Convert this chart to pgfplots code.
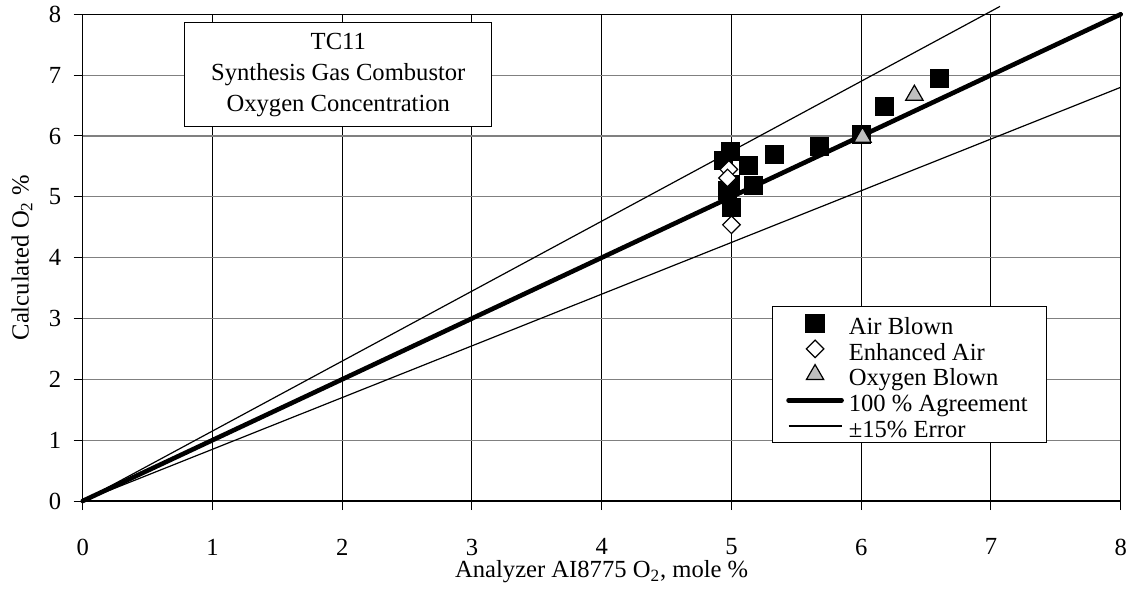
\documentclass[border=0pt]{standalone}
\usepackage{fontspec}
\setmainfont{Liberation Serif}
\usepackage{pgfplots}
\pgfplotsset{compat=1.18}

% Measured O2 (analyzer) vs. calculated O2, mole %
\pgfplotstableread{
x     y
4.94  5.60
4.99  5.74
5.13  5.51
5.33  5.69
5.17  5.18
4.99  5.20
4.97  5.10
5.00  4.83
5.68  5.83
6.00  6.03
6.18  6.48
6.60  6.94
}\airblown
\pgfplotstableread{
x     y
4.98  5.45
4.97  5.31
5.00  4.54
}\enhancedair
\pgfplotstableread{
x     y
6.01  5.98
6.41  6.67
}\oxygenblown

\begin{document}
\begin{tikzpicture}
\begin{axis}[
  scale only axis,
  width=519pt, height=243.35pt,
  xmin=0, xmax=8, ymin=0, ymax=8,
  xtick={0,1,...,8}, ytick={0,1,...,8},
  xtick pos=lower, ytick pos=left,
  tick align=outside, major tick length=4.5pt,
  tick style={black, line width=0.5pt},
  axis line style={black, line width=0.6pt},
  grid=major,
  x grid style={black, line width=0.5pt},
  y grid style={gray, line width=0.6pt},
  clip=false,
  font=\fontsize{12.3}{14}\selectfont,
  /pgf/number format/assume math mode=true,
  xticklabel style={inner sep=0pt, anchor=north, yshift=-14.2pt},
  yticklabel style={inner sep=0pt, anchor=east, xshift=-6pt},
  xlabel={Analyzer AI8775 O\textsubscript{2}, mole \%},
  ylabel={Calculated O\textsubscript{2} \%},
  xlabel style={at={(axis description cs:0.5,0)}, anchor=north, inner sep=0pt, yshift=-29.6pt},
  ylabel style={at={(axis description cs:-0.0585,0.5)}, anchor=center, inner sep=0pt},
  legend cell align=left,
  legend image code/.code={%
    \draw[mark repeat=2, mark phase=2, #1]
      plot coordinates {(0pt,0pt) (13.25pt,0pt) (26.5pt,0pt)};},
  legend style={
    at={(axis cs:5.31,3.21)}, anchor=north west,
    draw=black, line width=0.6pt, fill=white,
    inner xsep=7pt, inner ysep=2pt,
    row sep=0pt,
    font=\fontsize{12.3}{14}\selectfont,
    nodes={inner ysep=0pt, inner xsep=2.5pt, text height=12pt, text depth=0.85pt},
  },
]
% agreement and +/-15% error lines
\addplot[black, line width=2.3pt, line cap=round, forget plot] coordinates {(0,0) (8,8)};
\addplot[black, line width=0.6pt, forget plot] coordinates {(0,0) (7.07,8.13)};
\addplot[black, line width=0.6pt, forget plot] coordinates {(0,0) (8,6.8)};

% test data
\addplot[only marks, mark=square*, mark size=4.5pt,
  mark options={fill=black, draw=black}] table[x=x, y=y] {\airblown};
\addlegendentry{Air Blown}
\addplot[only marks, mark=square*, mark size=3.1pt,
  mark options={rotate=45, fill=white, draw=black, line width=0.6pt}] table[x=x, y=y] {\enhancedair};
\addlegendentry{Enhanced Air}
\addplot[only marks, mark=triangle*, mark size=5pt,
  mark options={fill=black!25, draw=black, line width=0.6pt}] table[x=x, y=y] {\oxygenblown};
\addlegendentry{Oxygen Blown}
\addlegendimage{black, line width=2.3pt, line cap=round}
\addlegendentry{100 \% Agreement}
\addlegendimage{black, line width=0.6pt}
\addlegendentry{±15\% Error}

\node[draw=black, line width=0.6pt, fill=white, align=center,
  font=\fontsize{12.3}{15.5}\selectfont,
  minimum width=153.5pt, minimum height=52pt, inner sep=0pt]
  at (axis cs:1.97,7.005)
  {TC11\\Synthesis Gas Combustor\\Oxygen Concentration};
\end{axis}
\pgfresetboundingbox
\path (current axis.south west) ++(-41.35pt,-44.5pt) rectangle ++(565.5pt,295pt);
\end{tikzpicture}
\end{document}
